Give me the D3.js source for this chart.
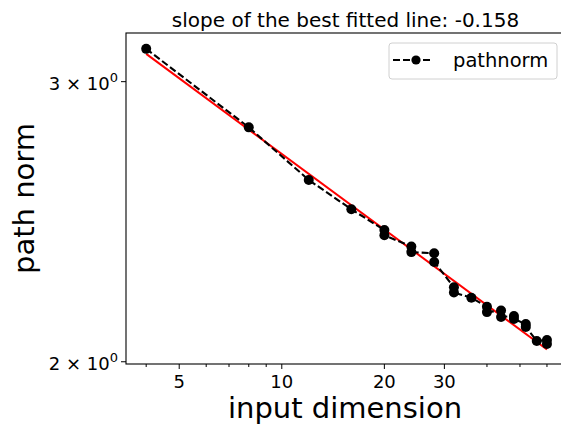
<!DOCTYPE html>
<html>
<head>
<meta charset="utf-8">
<script src="https://cdn.jsdelivr.net/npm/d3@7"></script>
<style>
  body { margin: 0; background: #fff; }
  svg { display: block; font-family: "DejaVu Sans", sans-serif; }
</style>
</head>
<body>
<div id="chart"></div>
<script>
// input dimension of each run (two runs for several sizes)
var dims = [4, 8, 12, 16, 20, 20, 24, 24, 28, 28, 32, 32, 36, 40, 40, 44, 44, 48, 48, 52, 52, 56, 60, 60];
// path norm measured for each run
var norms = [3.146, 2.808, 2.602, 2.494, 2.420, 2.402, 2.363, 2.344, 2.340, 2.311, 2.228, 2.211,
             2.194, 2.166, 2.149, 2.154, 2.134, 2.137, 2.128, 2.112, 2.103, 2.061, 2.064, 2.052];
// best fitted line in log10 space: [slope, intercept]
var fit = [-0.158, 0.5897];
var xTicks = [4, 5, 6, 7, 8, 9, 10, 20, 30, 40, 50, 60];
var xLabeled = [5, 10, 20, 30];
var yTicks = [2, 3];

var width = 561, height = 424;
var plot = { left: 126, top: 33, right: 567, bottom: 364 };

var svg = d3.select("#chart").append("svg")
    .attr("width", width)
    .attr("height", height);

var x = d3.scaleLog().domain([3.49, 68.7]).range([plot.left, plot.right]);
var y = d3.scaleLog().domain([1.9935, 3.219]).range([plot.bottom, plot.top]);

var data = dims.map(function (d, i) { return { x: d, y: norms[i] }; });

// fitted line
var fitEnds = [d3.min(dims), d3.max(dims)];
svg.append("line")
    .attr("x1", x(fitEnds[0]))
    .attr("y1", y(Math.pow(10, fit[1] + fit[0] * Math.log10(fitEnds[0]))))
    .attr("x2", x(fitEnds[1]))
    .attr("y2", y(Math.pow(10, fit[1] + fit[0] * Math.log10(fitEnds[1]))))
    .attr("stroke", "red")
    .attr("stroke-width", 2);

// dashed data line + markers
var line = d3.line().x(function (d) { return x(d.x); }).y(function (d) { return y(d.y); });
svg.append("path")
    .datum(data)
    .attr("d", line)
    .attr("fill", "none")
    .attr("stroke", "black")
    .attr("stroke-width", 2.1)
    .attr("stroke-dasharray", "7,3");

svg.selectAll(".pt")
    .data(data)
    .join("circle")
    .attr("class", "pt")
    .attr("cx", function (d) { return x(d.x); })
    .attr("cy", function (d) { return y(d.y); })
    .attr("r", 5)
    .attr("fill", "black");

// frame
svg.append("rect")
    .attr("x", plot.left)
    .attr("y", plot.top)
    .attr("width", plot.right - plot.left)
    .attr("height", plot.bottom - plot.top)
    .attr("fill", "none")
    .attr("stroke", "black")
    .attr("stroke-width", 1.1);

// x axis ticks
var xg = svg.append("g");
xg.selectAll("line")
    .data(xTicks)
    .join("line")
    .attr("x1", function (d) { return x(d); })
    .attr("x2", function (d) { return x(d); })
    .attr("y1", plot.bottom)
    .attr("y2", function (d) { return plot.bottom + (xLabeled.indexOf(d) >= 0 ? 5 : 3); })
    .attr("stroke", "black")
    .attr("stroke-width", 1);
xg.selectAll("text")
    .data(xLabeled)
    .join("text")
    .attr("x", function (d) { return x(d); })
    .attr("y", 388)
    .attr("text-anchor", "middle")
    .attr("font-size", 18)
    .text(function (d) { return d; });

// y axis ticks
var yg = svg.append("g");
yg.selectAll("line")
    .data(yTicks)
    .join("line")
    .attr("x1", plot.left - 5)
    .attr("x2", plot.left)
    .attr("y1", function (d) { return y(d); })
    .attr("y2", function (d) { return y(d); })
    .attr("stroke", "black")
    .attr("stroke-width", 1);
var yl = yg.selectAll("text")
    .data(yTicks)
    .join("text")
    .attr("x", plot.left - 8)
    .attr("y", function (d) { return y(d) + 8; })
    .attr("text-anchor", "end")
    .attr("font-size", 18);
yl.append("tspan").text(function (d) { return d + " \u00d7 10"; });
yl.append("tspan").attr("dy", -8).attr("font-size", 13).text("0");

// title and axis labels
svg.append("text")
    .attr("x", (plot.left + plot.right) / 2 - 1)
    .attr("y", 27)
    .attr("text-anchor", "middle")
    .attr("font-size", 20)
    .text("slope of the best fitted line: -0.158");

svg.append("text")
    .attr("x", 345)
    .attr("y", 418)
    .attr("text-anchor", "middle")
    .attr("font-size", 29)
    .text("input dimension");

svg.append("text")
    .attr("transform", "translate(34," + ((plot.top + plot.bottom) / 2) + ") rotate(-90)")
    .attr("text-anchor", "middle")
    .attr("font-size", 29)
    .text("path norm");

// legend
var lg = svg.append("g").attr("transform", "translate(389,43)");
lg.append("rect")
    .attr("width", 168)
    .attr("height", 36)
    .attr("rx", 3)
    .attr("fill", "white")
    .attr("fill-opacity", 0.8)
    .attr("stroke", "#d0d0d0");
lg.append("line")
    .attr("x1", 4).attr("x2", 44)
    .attr("y1", 17).attr("y2", 17)
    .attr("stroke", "black")
    .attr("stroke-width", 2.1)
    .attr("stroke-dasharray", "7,3");
lg.append("circle").attr("cx", 27).attr("cy", 17).attr("r", 4.6).attr("fill", "black");
lg.append("text")
    .attr("x", 64)
    .attr("y", 24)
    .attr("font-size", 19.5)
    .text("pathnorm");
</script>
</body>
</html>
